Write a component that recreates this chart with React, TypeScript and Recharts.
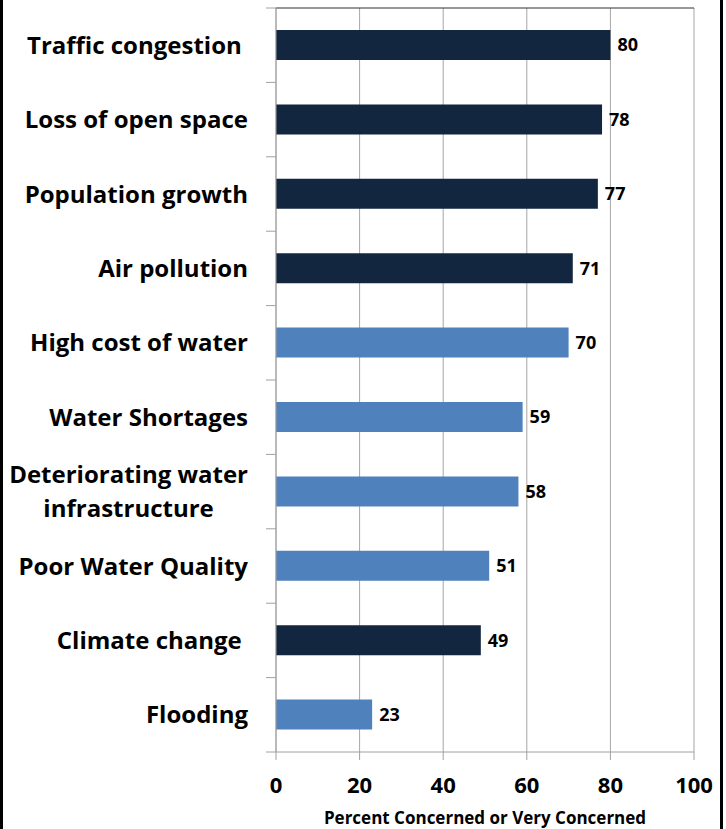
import React from 'react';
import { BarChart, Bar, XAxis, YAxis, CartesianGrid, Cell, LabelList, ReferenceLine } from 'recharts';

document.body.style.margin = '0';

// survey concerns, top to bottom
const concerns = [
  'Traffic congestion ',
  'Loss of open space',
  'Population growth',
  'Air pollution',
  'High cost of water',
  'Water Shortages',
  'Deteriorating water\ninfrastructure',
  'Poor Water Quality',
  'Climate change ',
  'Flooding',
];
const percentConcerned = [80, 78, 77, 71, 70, 59, 58, 51, 49, 23];
// water related issues are drawn in the lighter blue
const waterIssue = [false, false, false, false, true, true, true, true, false, true];
const xTicks = [0, 20, 40, 60, 80, 100];
const axisTitle = 'Percent Concerned or Very Concerned';

const FONT = '"Open Sans", Lato, sans-serif';
const NAVY = '#13263F';
const BLUE = '#4F81BD';
const AXIS_GRAY = '#A0A0A0';

const data = concerns.map((name, i) => ({
  name,
  value: percentConcerned[i],
  water: waterIssue[i],
}));

let ctx: CanvasRenderingContext2D | null = null;
const measure = (s: string, font: string) => {
  if (!ctx) ctx = document.createElement('canvas').getContext('2d');
  if (!ctx) return s.length * 12;
  ctx.font = font;
  return ctx.measureText(s).width;
};

const CategoryTick = (props: any) => {
  const { x, y, payload, index } = props;
  const lines = String(payload.value).split('\n');
  const half = payload.offset || 37.2;
  const axisX = x + 28;
  const textStyle = { whiteSpace: 'pre' as const };
  let label;
  if (lines.length === 1) {
    label = (
      <text x={x} y={y} dy="0.36em" textAnchor="end" fontFamily={FONT} fontWeight={700} fontSize={24} fill="#000" style={textStyle}>
        {lines[0]}
      </text>
    );
  } else {
    const w = Math.max(...lines.map((l) => measure(l, `700 24px ${FONT}`)));
    const cx = x - w / 2;
    label = (
      <text textAnchor="middle" fontFamily={FONT} fontWeight={700} fontSize={24} fill="#000" style={textStyle}>
        {lines.map((l, i) => (
          <tspan key={i} x={cx} y={y + (i - (lines.length - 1) / 2) * 34} dy="0.36em">
            {l}
          </tspan>
        ))}
      </text>
    );
  }
  return (
    <g>
      <line x1={axisX - 10} x2={axisX} y1={y - half} y2={y - half} stroke={AXIS_GRAY} />
      {index === concerns.length - 1 && (
        <line x1={axisX - 10} x2={axisX} y1={y + half} y2={y + half} stroke={AXIS_GRAY} />
      )}
      {label}
    </g>
  );
};

export default function App() {
  return (
    <div style={{ position: 'relative', width: 726, height: 829, background: '#fff' }}>
      <BarChart
        width={726}
        height={829}
        data={data}
        layout="vertical"
        margin={{ top: 8, right: 32, bottom: 0, left: 0 }}
      >
        <CartesianGrid horizontal={false} stroke="#A6A6A6" />
        <XAxis
          type="number"
          domain={[0, 100]}
          ticks={xTicks}
          interval={0}
          height={77}
          tickSize={8}
          tickMargin={17}
          axisLine={{ stroke: AXIS_GRAY }}
          tickLine={{ stroke: AXIS_GRAY }}
          tick={{ fill: '#000', fontSize: 22, fontWeight: 700, fontFamily: FONT }}
          label={{
            value: axisTitle,
            position: 'insideBottom',
            offset: 5,
            fill: '#000',
            fontSize: 17,
            fontWeight: 700,
            fontFamily: FONT,
          }}
        />
        <YAxis
          type="category"
          dataKey="name"
          width={276}
          interval={0}
          tickSize={10}
          tickMargin={18}
          tickLine={false}
          axisLine={{ stroke: AXIS_GRAY }}
          tick={<CategoryTick />}
        />
        {/* dark frame line along the top edge of the first band */}
        <ReferenceLine y={concerns[0]} position="start" stroke="#303030" />
        <Bar dataKey="value" barSize={30} isAnimationActive={false}>
          {data.map((d, i) => (
            <Cell key={i} fill={d.water ? BLUE : NAVY} />
          ))}
          <LabelList
            dataKey="value"
            position="right"
            offset={7}
            fill="#000"
            fontSize={18}
            fontWeight={700}
            fontFamily={FONT}
          />
        </Bar>
      </BarChart>
      <div
        style={{
          position: 'absolute',
          left: 0,
          top: 0,
          width: 723,
          height: 829,
          boxSizing: 'border-box',
          borderLeft: '3px solid #000',
          borderRight: '3px solid #000',
          pointerEvents: 'none',
        }}
      />
    </div>
  );
}
